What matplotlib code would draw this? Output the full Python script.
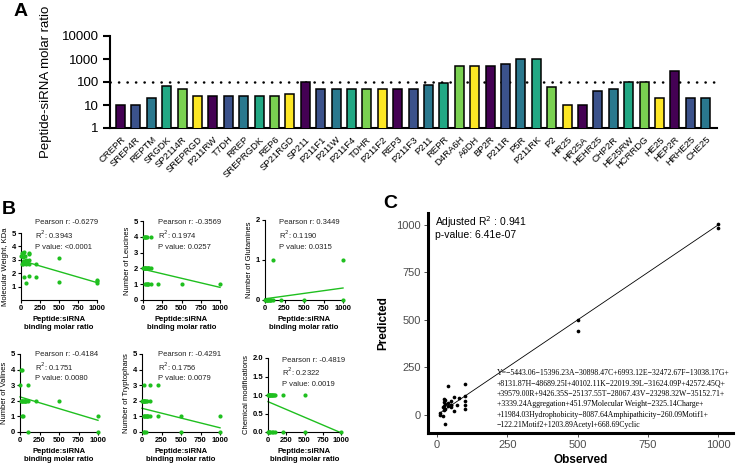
import matplotlib
matplotlib.use('Agg')
import matplotlib.pyplot as plt
from matplotlib.ticker import NullLocator
import numpy as np

W, H = 747, 466
plt.rcParams['font.family'] = ['Liberation Sans', 'DejaVu Sans']

# ---- Panel A data ----
peptides = ['CREPR', 'SREP4R', 'REPTM', 'SRGDK', 'SP2114R', 'SREPRGD', 'P211RW', 'T7DH',
            'RREP', 'SREPRGDK', 'REP6', 'SP21RGD', 'SP211', 'P211F1', 'P211W', 'P211F4',
            'TDHR', 'P211F2', 'REP3', 'P211F3', 'P211', 'REPR', 'D4RA6H', 'A6DH', 'BP2R',
            'P211R', 'P5R', 'P211RK', 'P2', 'HR25', 'HR25A', 'HEHR25', 'CHP2R', 'HE25RW',
            'HCRRDG', 'HE25', 'HEP2R', 'HRHE25', 'CHE25']
molar_ratio = [10, 10, 20, 70, 50, 25, 25, 25, 25, 25, 25, 30, 100, 50, 50, 50, 50, 50, 50, 50,
               75, 95, 500, 500, 500, 600, 1000, 1000, 60, 10, 10, 40, 50, 100, 100, 20, 300, 20, 20]
bar_colors = ['#440154', '#3b528b', '#2a788e', '#22a884', '#7ad151', '#fde725']
threshold = 100

# ---- Panel B data ----
mw_x = [5, 10, 15, 20, 25, 30, 30, 40, 40, 50, 50, 60, 60, 70, 80, 100, 100, 100, 100,
        40, 60, 100, 200, 200, 500, 500, 1000, 1000, 1000]
mw_y = [3.3, 2.7, 3.5, 2.8, 3.2, 3.5, 2.7, 3.6, 2.9, 2.75, 3.3, 2.7, 3.0, 2.8, 2.8, 3.5, 3.4, 3.0, 2.7,
        1.7, 1.3, 1.8, 2.7, 1.7, 3.1, 1.35, 1.5, 1.3, 1.4]
mw_fit = (2.95, -0.00165)

leu_x = [10, 20, 30, 40, 50, 100, 5, 10, 20, 25, 30, 40, 50, 60, 70, 80, 100,
         30, 40, 50, 60, 70, 100, 200, 500, 1000]
leu_y = [4, 4, 4, 4, 4, 4, 2, 2, 2, 2, 2, 2, 2, 2, 2, 2, 2,
         1, 1, 1, 1, 1, 1, 1, 1, 1]
leu_fit = (1.95, -0.00115)

gln_x = [5, 10, 20, 25, 30, 40, 50, 60, 70, 80, 100, 200, 500, 1000, 100, 1000]
gln_y = [0, 0, 0, 0, 0, 0, 0, 0, 0, 0, 0, 0, 0, 0, 1, 1]
gln_fit = (0.03, 0.00027)

val_x = [10, 30, 5, 100, 10, 20, 30, 40, 50, 60, 70, 80, 100, 200, 500, 30, 40, 1000, 100, 1000]
val_y = [4, 4, 3, 3, 2, 2, 2, 2, 2, 2, 2, 2, 2, 2, 2, 1, 1, 1, 0, 0]
val_fit = (2.25, -0.0015)

trp_x = [30, 100, 200, 5, 10, 20, 25, 30, 40, 50, 60, 100,
         20, 30, 40, 50, 60, 70, 80, 100, 200, 500, 1000, 20, 30, 50, 500, 1000]
trp_y = [3, 3, 3, 2, 2, 2, 2, 2, 2, 2, 2, 2,
         1, 1, 1, 1, 1, 1, 1, 1, 1, 1, 1, 0, 0, 0, 0, 0]
trp_fit = (1.52, -0.00125)

chem_x = [5, 10, 20, 25, 30, 40, 50, 60, 70, 80, 100, 200, 500,
          5, 10, 20, 30, 50, 70, 100, 200, 500, 1000]
chem_y = [1, 1, 1, 1, 1, 1, 1, 1, 1, 1, 1, 1, 1,
          0, 0, 0, 0, 0, 0, 0, 0, 0, 0]
chem_fit = (0.82, -0.00084)

stats_b = [['Pearson r: -0.6279', 'R$^2$: 0.3943', 'P value: <0.0001'],
           ['Pearson r: -0.3569', 'R$^2$: 0.1974', 'P value: 0.0257'],
           ['Pearson r: 0.3449', 'R$^2$: 0.1190', 'P value: 0.0315'],
           ['Pearson r: -0.4184', 'R$^2$: 0.1751', 'P value: 0.0080'],
           ['Pearson r: -0.4291', 'R$^2$: 0.1756', 'P value: 0.0079'],
           ['Pearson r: -0.4819', 'R$^2$: 0.2322', 'P value: 0.0019']]

# ---- Panel C data ----
observed = [10, 10, 20, 20, 25, 25, 25, 25, 30, 30, 30, 30, 40, 40, 40, 50, 50, 50, 50,
            60, 60, 70, 80, 100, 100, 100, 100, 100, 500, 500, 1000, 1000]
predicted = [8, 2, -8, 40, 25, 45, 70, 85, 30, 60, 80, -50, 150, 45, 65, 40, 50, 75, 55,
             20, 95, 50, 90, 165, 100, 75, 50, 30, 500, 440, 1005, 982]
equation = ("Y=\u22125443.06\u221215396.23A\u221230898.47C+6993.12E\u221232472.67F\u221213038.17G+\n"
            "+8131.87H\u221248689.25I+40102.11K\u221222019.39L\u221231624.09P+42572.45Q+\n"
            "+39579.00R+9426.35S\u221225137.55T\u221228067.43V\u221223298.32W\u221235152.71+\n"
            "+3339.24Aggregation+451.97Molecular Weight\u22122325.14Charge+\n"
            "+11984.03Hydrophobicity\u22128087.64Amphipathicity\u2212260.09Motif1+\n"
            "\u2212122.21Motif2+1203.89Acetyl+668.69Cyclic")

fig = plt.figure(figsize=(W / 100, H / 100), dpi=100)


def px_axes(x0, y0, x1, y1):
    return fig.add_axes([x0 / W, 1 - y1 / H, (x1 - x0) / W, (y1 - y0) / H])


def px_text(x, y, s, **kw):
    return fig.text(x / W, 1 - y / H, s, **kw)


# ---- Panel A ----
axA = px_axes(110, 36, 717, 128)
pos = np.arange(len(peptides))
cols = [bar_colors[i % len(bar_colors)] for i in range(len(peptides))]
axA.bar(pos, molar_ratio, width=0.58, color=cols, edgecolor='black', linewidth=1.1, zorder=3)
axA.axhline(threshold, color='black', lw=1.8, linestyle=(0, (0.1, 3.3)),
            dash_capstyle='round', zorder=2)
axA.set_yscale('log')
axA.set_ylim(1, 10000)
axA.set_xlim(-0.68, 38.73)
axA.set_yticks([1, 10, 100, 1000, 10000])
axA.set_yticklabels(['1', '10', '100', '1000', '10000'])
axA.yaxis.set_minor_locator(NullLocator())
axA.set_xticks(pos)
axA.set_xticklabels(peptides, rotation=45, ha='right', rotation_mode='anchor', fontsize=6.8)
for s in ['top', 'right']:
    axA.spines[s].set_visible(False)
for s in ['left', 'bottom']:
    axA.spines[s].set_linewidth(1.5)
axA.tick_params(axis='y', length=5, width=1.5, labelsize=9.5, pad=3)
axA.tick_params(axis='x', length=0, pad=5)
axA.set_ylabel('Peptide-siRNA molar ratio', fontsize=9.5, labelpad=5)
axA.yaxis.set_label_coords(-0.095, 0.5)

# ---- Panel B ----
green = '#1fbf1f'
b_specs = [
    ((21, 233, 97, 300), mw_x, mw_y, mw_fit, 'Molecular Weight, KDa', (0, 5), [1, 2, 3, 4, 5], None, (35, 223)),
    ((143, 221, 220, 300), leu_x, leu_y, leu_fit, 'Number of Leucines', (0, 5), [0, 1, 2, 3, 4, 5], None, (158, 223)),
    ((265, 220, 343, 300), gln_x, gln_y, gln_fit, 'Number of Glutamines', (0, 2), [0, 1, 2], None, (279, 223)),
    ((20, 354, 98, 432), val_x, val_y, val_fit, 'Number of Valines', (0, 5), [0, 1, 2, 3, 4, 5], None, (35, 355)),
    ((142, 354, 220, 432), trp_x, trp_y, trp_fit, 'Number of Tryptophans', (0, 5), [0, 1, 2, 3, 4, 5], None, (158, 355)),
    ((268, 358, 341, 432), chem_x, chem_y, chem_fit, 'Chemical modifications', (0, 2), [0, 0.5, 1, 1.5, 2],
     ['0.0', '0.5', '1.0', '1.5', '2.0'], (282, 360)),
]
fit_x = np.array([0, 1000])
for i, (rect, xs, ys, fit, ylab, ylim, yt, ytl, tpos) in enumerate(b_specs):
    ax = px_axes(*rect)
    ax.scatter(xs, ys, s=9, color=green, zorder=3, clip_on=False, linewidths=0)
    ax.plot(fit_x, fit[0] + fit[1] * fit_x, color=green, lw=1.0, zorder=2, clip_on=False)
    ax.set_xlim(0, 1000)
    ax.set_ylim(*ylim)
    ax.set_xticks([0, 250, 500, 750, 1000])
    ax.set_yticks(yt)
    if ytl:
        ax.set_yticklabels(ytl)
    for s in ['top', 'right']:
        ax.spines[s].set_visible(False)
    for s in ['left', 'bottom']:
        ax.spines[s].set_linewidth(0.8)
    ax.tick_params(length=2, width=0.8, labelsize=5.5, pad=1.5)
    for lab in ax.get_xticklabels() + ax.get_yticklabels():
        lab.set_fontweight('bold')
    ax.set_ylabel(ylab, fontsize=5.5, labelpad=2)
    ax.set_xlabel('Peptide:siRNA\nbinding molar ratio', fontsize=5.5, fontweight='bold',
                  labelpad=3, linespacing=1.25)
    for j, line in enumerate(stats_b[i]):
        px_text(tpos[0], tpos[1] + j * 12, line, fontsize=5.5, va='center', color='#222222')

# ---- Panel C ----
axC = px_axes(428, 213, 733, 433)
axC.scatter(observed, predicted, s=7, color='black', zorder=3, linewidths=0)
line_x = np.array([min(observed), max(observed)])
axC.plot(line_x, line_x, color='black', lw=0.6, zorder=2)
axC.set_xlim(-32, 1053)
axC.set_ylim(-95, 1063)
axC.set_xticks([0, 250, 500, 750, 1000])
axC.set_yticks([0, 250, 500, 750, 1000])
for s in ['top', 'right']:
    axC.spines[s].set_visible(False)
for s in ['left', 'bottom']:
    axC.spines[s].set_linewidth(2.2)
axC.tick_params(length=3, width=0.6, color='#333333', labelsize=8, labelcolor='#4d4d4d', pad=2)
axC.set_xlabel('Observed', fontsize=8.5, fontweight='bold', labelpad=3)
axC.set_ylabel('Predicted', fontsize=8.5, fontweight='bold', labelpad=5)
px_text(435, 222, 'Adjusted R$^2$ : 0.941', fontsize=7.5, va='center')
px_text(435, 235, 'p-value: 6.41e-07', fontsize=7.5, va='center')
px_text(497, 369, equation, fontsize=5.6, va='top', linespacing=1.4,
        family=['Liberation Serif', 'DejaVu Serif'])

# ---- Panel letters ----
px_text(21, 12, 'A', fontsize=14, fontweight='bold', ha='center', va='center')
px_text(9, 210, 'B', fontsize=14, fontweight='bold', ha='center', va='center')
px_text(390, 203, 'C', fontsize=14, fontweight='bold', ha='center', va='center')

fig.savefig('out.png', dpi=100)
